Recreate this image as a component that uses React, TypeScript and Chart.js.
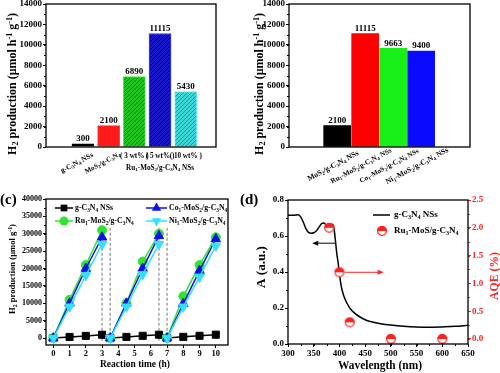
import React, { useEffect, useRef } from 'react';
import { Chart, registerables } from 'chart.js';

Chart.register(...registerables);

const FONT = '"Liberation Serif", "Times New Roman", Times, serif';

// ---------- panel (a) ----------
const aCategories = ['g-C_3N_4 NSs', 'MoS_2/g-C_3N_4', '( 3 wt% )', '( 5 wt% )', '( 10 wt% )'];
const aGroupLabel = 'Ru_1-MoS_2/g-C_3N_4 NSs';
const aValues = [300, 2100, 6890, 11115, 5430];
const aYTicks = [0, 2000, 4000, 6000, 8000, 10000, 12000, 14000];
const aYTitle = 'H_2 production (μmol h^{-1} g^{-1})';

// ---------- panel (b) ----------
const bCategories = ['MoS_2/g-C_3N_4 NSs', 'Ru_1-MoS_2/g-C_3N_4 NSs', 'Co_1-MoS_2/g-C_3N_4 NSs', 'Ni_1-MoS_2/g-C_3N_4 NSs'];
const bValues = [2100, 11115, 9663, 9400];
const bYTicks = [0, 2000, 4000, 6000, 8000, 10000, 12000, 14000];

// ---------- panel (c) ----------
const cTimes = [0, 1, 2, 3, 3.5, 4.5, 5.5, 6.5, 7, 8, 9, 10];
const cCycleLength = 4;
const cGcn = [0, 320, 620, 950, 0, 330, 640, 960, 0, 340, 650, 970];
const cRu = [0, 11000, 21000, 31000, 0, 10000, 22000, 30000, 0, 12000, 21000, 29000];
const cCo = [0, 10000, 20000, 29000, 0, 10000, 20000, 29400, 0, 9900, 19400, 28500];
const cNi = [0, 9000, 18000, 27000, 0, 9000, 18300, 27000, 0, 9000, 17600, 26500];
const cBreaks = [3, 3.5, 6.5, 7];
const cBreakRange = [-800, 32000];
const cSeriesNames = ['g-C_3N_4 NSs', 'Ru_1-MoS_2/g-C_3N_4', 'Co_1-MoS_2/g-C_3N_4', 'Ni_1-MoS_2/g-C_3N_4'];
const cXTicks = [0, 1, 2, 3, 4, 5, 6, 7, 8, 9, 10];
const cYTicks = [0, 5000, 10000, 15000, 20000, 25000, 30000, 35000, 40000];

// ---------- panel (d) ----------
const dWavelength = [300, 310, 320, 325, 330, 335, 340, 345, 350, 355, 360, 365, 370, 375, 380, 385, 388, 390, 392, 395, 398, 400, 403, 406, 410, 415, 420, 430, 440, 450, 460, 480, 500, 525, 550, 575, 600, 625, 650];
const dAbsorbance = [0.715, 0.715, 0.718, 0.705, 0.675, 0.64, 0.62, 0.615, 0.618, 0.628, 0.648, 0.668, 0.672, 0.658, 0.655, 0.665, 0.66, 0.63, 0.58, 0.5, 0.44, 0.39, 0.33, 0.29, 0.255, 0.225, 0.2, 0.17, 0.15, 0.135, 0.125, 0.113, 0.105, 0.098, 0.094, 0.093, 0.095, 0.098, 0.104];
const dAqeWavelength = [380, 400, 420, 500, 600];
const dAqe = [2.0, 1.2, 0.3, 0.0, 0.0];
const dXTicks = [300, 350, 400, 450, 500, 550, 600, 650];
const dYTicks = [0, 0.2, 0.4, 0.6, 0.8];
const dY2Ticks = [0, 0.5, 1.0, 1.5, 2.0, 2.5];
const dArrows = [
  { from: [392, 0.56], to: [347, 0.56], axis: 'y', color: '#000000' },
  { from: [410, 1.2], to: [486, 1.2], axis: 'y2', color: '#ff2020' },
];
const dSeriesNames = ['g-C_3N_4 NSs', 'Ru_1-MoS/g-C_3N_4'];

// ---------- helpers ----------
type Seg = { t: string; k: number };
function parseRich(s: string): Seg[] {
  const out: Seg[] = [];
  let buf = '';
  for (let i = 0; i < s.length; i++) {
    const ch = s[i];
    if ((ch === '_' || ch === '^') && i + 1 < s.length) {
      if (buf) { out.push({ t: buf, k: 0 }); buf = ''; }
      let t = '';
      if (s[i + 1] === '{') { const j = s.indexOf('}', i + 2); t = s.slice(i + 2, j); i = j; }
      else { t = s[i + 1]; i++; }
      out.push({ t, k: ch === '_' ? 1 : 2 });
    } else buf += ch;
  }
  if (buf) out.push({ t: buf, k: 0 });
  return out;
}
const fontOf = (size: number) => `bold ${size}px ${FONT}`;
function richWidth(ctx: any, segs: Seg[], size: number) {
  let w = 0;
  for (const sg of segs) { ctx.font = fontOf(sg.k ? size * 0.68 : size); w += ctx.measureText(sg.t).width; }
  return w;
}
function drawRich(ctx: any, s: string, x: number, y: number, o: any) {
  const segs = parseRich(s);
  ctx.save();
  let size = o.size || 9;
  if (o.len) { const w1 = richWidth(ctx, segs, 10); size = (10 * o.len) / w1; }
  ctx.translate(x, y);
  if (o.rot) ctx.rotate((o.rot * Math.PI) / 180);
  ctx.fillStyle = o.color || '#000';
  ctx.textBaseline = 'middle';
  ctx.textAlign = 'left';
  const w = richWidth(ctx, segs, size);
  let cx = o.align === 'center' ? -w / 2 : o.align === 'right' ? -w : 0;
  for (const sg of segs) {
    const fs = sg.k ? size * 0.68 : size;
    ctx.font = fontOf(fs);
    const dy = sg.k === 1 ? size * 0.28 : sg.k === 2 ? -size * 0.3 : 0;
    ctx.fillText(sg.t, cx, dy);
    cx += ctx.measureText(sg.t).width;
  }
  ctx.restore();
}
function drawFrame(chart: any) {
  const { ctx, chartArea: ca } = chart;
  ctx.save();
  ctx.strokeStyle = '#000';
  ctx.lineWidth = 1.3;
  ctx.strokeRect(ca.left, ca.top, ca.right - ca.left, ca.bottom - ca.top);
  ctx.restore();
}
function drawMinor(chart: any, id: string, step: number, color = '#000', len = 2) {
  const s = chart.scales[id];
  const ca = chart.chartArea;
  const ctx = chart.ctx;
  ctx.save();
  ctx.strokeStyle = color;
  ctx.lineWidth = 1;
  ctx.beginPath();
  const st = Math.max(0, Math.ceil((s.min - 1e-9) / step) * step);
  for (let v = st; v <= s.max + 1e-9; v += step) {
    const p = Math.round(s.getPixelForValue(v)) + 0.5;
    if (s.axis === 'x') { ctx.moveTo(p, ca.bottom); ctx.lineTo(p, ca.bottom + len); }
    else if (s.position === 'right') { ctx.moveTo(ca.right, p); ctx.lineTo(ca.right + len, p); }
    else { ctx.moveTo(ca.left, p); ctx.lineTo(ca.left - len, p); }
  }
  ctx.stroke();
  ctx.restore();
}
function marker(ctx: any, shape: string, x: number, y: number, r: number, color: string) {
  ctx.save();
  ctx.fillStyle = color;
  ctx.beginPath();
  if (shape === 'rect') { const h = r * 0.75; ctx.rect(x - h, y - h, 2 * h, 2 * h); }
  else if (shape === 'circle') ctx.arc(x, y, r, 0, Math.PI * 2);
  else if (shape === 'triangle') { ctx.moveTo(x, y - r); ctx.lineTo(x + r * 0.866, y + r * 0.5); ctx.lineTo(x - r * 0.866, y + r * 0.5); ctx.closePath(); }
  else { ctx.moveTo(x, y + r); ctx.lineTo(x + r * 0.866, y - r * 0.5); ctx.lineTo(x - r * 0.866, y - r * 0.5); ctx.closePath(); }
  ctx.fill();
  ctx.restore();
}
function hatch(base: string, line: string) {
  const c = document.createElement('canvas');
  c.width = 4; c.height = 4;
  const g = c.getContext('2d') as any;
  g.fillStyle = base; g.fillRect(0, 0, 4, 4);
  g.strokeStyle = line; g.lineWidth = 1;
  g.beginPath();
  g.moveTo(0, 4); g.lineTo(4, 0);
  g.moveTo(-1, 1); g.lineTo(1, -1);
  g.moveTo(3, 5); g.lineTo(5, 3);
  g.stroke();
  return g.createPattern(c, 'repeat');
}
function halfCircle(r: number) {
  const s = Math.ceil(r * 2 + 2);
  const c = document.createElement('canvas');
  c.width = s; c.height = s;
  const g = c.getContext('2d') as any;
  const m = s / 2;
  g.fillStyle = '#fff'; g.beginPath(); g.arc(m, m, r, 0, Math.PI * 2); g.fill();
  g.fillStyle = '#ff2020'; g.beginPath(); g.arc(m, m, r, Math.PI, Math.PI * 2); g.closePath(); g.fill();
  g.strokeStyle = '#ff2020'; g.lineWidth = 1.2; g.beginPath(); g.arc(m, m, r - 0.6, 0, Math.PI * 2); g.stroke();
  return c;
}
const fixedTicks = (values: number[]) => (s: any) => { s.ticks = values.map((v) => ({ value: v })); };
const labelFmt = (fmt: (v: number) => string) => (s: any) => { s.ticks.forEach((t: any) => { t.label = fmt(t.value); }); };
const plain = (v: number) => String(v);
const oneDec = (v: number) => v.toFixed(1);
const fixSize = (prop: string, size: number) => (s: any) => {
  s[prop] = size; s.paddingLeft = 0; s.paddingRight = 0; s.paddingTop = 0; s.paddingBottom = 0;
};
const tickFont = (size: number) => ({ family: FONT, size, weight: 'bold' as const });
const yAxis = (ticks: number[], min: number, max: number, width: number, fs: number, fmt: (v: number) => string, extra: any = {}) => ({
  min, max,
  position: extra.position || 'left',
  afterBuildTicks: fixedTicks(ticks),
  afterTickToLabelConversion: labelFmt(fmt),
  afterFit: fixSize('width', width),
  ticks: { font: tickFont(fs), color: extra.color || '#000', padding: 1 },
  grid: { drawOnChartArea: false, tickLength: 3, color: extra.color || '#000', lineWidth: 1 },
  border: { display: false },
});

function cyclePoints(ys: number[]) {
  const pts: any[] = [];
  ys.forEach((y, i) => {
    if (i > 0 && i % cCycleLength === 0) pts.push({ x: (cTimes[i - 1] + cTimes[i]) / 2, y: null });
    pts.push({ x: cTimes[i], y });
  });
  return pts;
}

// ---------- chart configs ----------
function configA(): any {
  const fills = ['#000000', '#ff1a1a', hatch('#1fc41f', '#0b8f0b'), hatch('#1818c8', '#00008a'), hatch('#3cd6d6', '#1a9e9e')];
  const borders = ['#000000', '#ff3030', '#44ee44', '#3a3aff', '#66eeee'];
  const rotLens = [36, 39];
  return {
    type: 'bar',
    data: { datasets: [{ data: aValues.map((v, i) => ({ x: i + 1, y: v })), backgroundColor: fills, borderColor: borders, borderWidth: 1, barThickness: 22 }] },
    options: {
      animation: false, responsive: false,
      layout: { padding: { left: 0, right: 34, top: 4, bottom: 0 } },
      plugins: { legend: { display: false }, tooltip: { enabled: false } },
      scales: {
        x: { type: 'linear', min: 0.39, max: 5.35, ticks: { display: false }, grid: { display: false }, border: { display: false }, afterFit: fixSize('height', 45) },
        y: yAxis(aYTicks, 0, 14000, 46, 9, plain),
      },
    },
    plugins: [{
      id: 'decoA',
      afterDraw(chart: any) {
        const ctx = chart.ctx; const ca = chart.chartArea;
        drawMinor(chart, 'y', 1000);
        drawFrame(chart);
        const meta = chart.getDatasetMeta(0);
        meta.data.forEach((el: any, i: number) => {
          drawRich(ctx, String(aValues[i]), el.x, el.y - 5, { size: 9, align: 'center' });
          if (i < 2) drawRich(ctx, aCategories[i], el.x - 6, ca.bottom + 16, { len: rotLens[i], align: 'center', rot: -28 });
          else drawRich(ctx, aCategories[i], el.x, ca.bottom + 9, { size: 7.2, align: 'center' });
        });
        drawRich(ctx, aGroupLabel, meta.data[3].x, ca.bottom + 21, { len: 68, align: 'center' });
        drawRich(ctx, aYTitle, 13, 84, { len: 142, align: 'center', rot: -90 });
      },
    }],
  };
}

function configB(): any {
  const fills = ['#000000', '#ff0000', '#19ef19', '#0a0aff'];
  const labelLens = [57, 68, 66, 70];
  return {
    type: 'bar',
    data: { datasets: [{ data: bValues.map((v, i) => ({ x: i + 1, y: v })), backgroundColor: fills, borderColor: fills, borderWidth: 0, barThickness: 27 }] },
    options: {
      animation: false, responsive: false,
      layout: { padding: { left: 0, right: 30, top: 4, bottom: 0 } },
      plugins: { legend: { display: false }, tooltip: { enabled: false } },
      scales: {
        x: { type: 'linear', min: 0.357, max: 4.667, ticks: { display: false }, grid: { display: false }, border: { display: false }, afterFit: fixSize('height', 45) },
        y: yAxis(bYTicks, 0, 14000, 39, 9, plain),
      },
    },
    plugins: [{
      id: 'decoB',
      afterDraw(chart: any) {
        const ctx = chart.ctx; const ca = chart.chartArea;
        drawMinor(chart, 'y', 1000);
        drawFrame(chart);
        const meta = chart.getDatasetMeta(0);
        meta.data.forEach((el: any, i: number) => {
          drawRich(ctx, String(bValues[i]), el.x, el.y - 5, { size: 9, align: 'center' });
          drawRich(ctx, bCategories[i], el.x - 4, ca.bottom + 19, { len: labelLens[i], align: 'center', rot: -28 });
        });
        drawRich(ctx, aYTitle, 10, 84, { len: 142, align: 'center', rot: -90 });
      },
    }],
  };
}

function configC(): any {
  const lineDs = (ys: number[], color: string, style: string, radius: number, rotation = 0) => ({
    data: cyclePoints(ys), borderColor: color, backgroundColor: color, borderWidth: 1.5,
    pointStyle: style, pointRadius: radius, pointRotation: rotation, pointBorderWidth: 1, spanGaps: false,
  });
  const breaks = cBreaks.map((b) => ({
    data: cBreakRange.map((y) => ({ x: b, y })), borderColor: '#8c8c8c', borderWidth: 1.2, borderDash: [3, 2], pointRadius: 0,
  }));
  return {
    type: 'line',
    data: {
      datasets: [
        lineDs(cNi, '#33e0ff', 'triangle', 5.5, 180),
        lineDs(cCo, '#1010ee', 'triangle', 5.5),
        lineDs(cRu, '#2ee62e', 'circle', 4.5),
        lineDs(cGcn, '#000000', 'rect', 5),
        ...breaks,
      ],
    },
    options: {
      animation: false, responsive: false,
      layout: { padding: { left: 0, right: 22, top: 14, bottom: 0 } },
      plugins: { legend: { display: false }, tooltip: { enabled: false } },
      scales: {
        x: {
          type: 'linear', min: -0.45, max: 10.75,
          afterBuildTicks: fixedTicks(cXTicks), afterTickToLabelConversion: labelFmt(plain), afterFit: fixSize('height', 28),
          ticks: { font: tickFont(8.5), color: '#000', padding: 1 },
          grid: { drawOnChartArea: false, tickLength: 3, color: '#000' }, border: { display: false },
        },
        y: yAxis(cYTicks, -2000, 40000, 46, 8, plain),
      },
    },
    plugins: [{
      id: 'decoC',
      afterDraw(chart: any) {
        const ctx = chart.ctx;
        drawMinor(chart, 'y', 2500);
        drawFrame(chart);
        const items = [
          { name: cSeriesNames[0], color: '#000000', shape: 'rect', r: 4.5, x1: 55, x2: 73, y: 23 },
          { name: cSeriesNames[1], color: '#2ee62e', shape: 'circle', r: 4.5, x1: 55, x2: 73, y: 36 },
          { name: cSeriesNames[2], color: '#1010ee', shape: 'triangle', r: 5.5, x1: 146, x2: 167, y: 23 },
          { name: cSeriesNames[3], color: '#33e0ff', shape: 'down', r: 5.5, x1: 146, x2: 167, y: 36 },
        ];
        for (const it of items) {
          ctx.save(); ctx.strokeStyle = it.color; ctx.lineWidth = 1.5;
          ctx.beginPath(); ctx.moveTo(it.x1, it.y); ctx.lineTo(it.x2, it.y); ctx.stroke(); ctx.restore();
          marker(ctx, it.shape, (it.x1 + it.x2) / 2, it.y, it.r, it.color);
          drawRich(ctx, it.name, it.x2 + 2, it.y, { size: 7.8 });
        }
        drawRich(ctx, 'H_2 production (μmol g^{-1})', 13, 84, { len: 90, align: 'center', rot: -90 });
        drawRich(ctx, 'Reaction time (h)', 135, 180, { len: 70, align: 'center' });
      },
    }],
  };
}

function configD(): any {
  return {
    type: 'line',
    data: {
      datasets: [
        {
          data: dAqeWavelength.map((x, i) => ({ x, y: dAqe[i] })), yAxisID: 'y2', showLine: false,
          pointStyle: halfCircle(5), pointRadius: 5, borderColor: '#ff2020', backgroundColor: '#ff2020',
        },
        {
          data: dWavelength.map((x, i) => ({ x, y: dAbsorbance[i] })), yAxisID: 'y', borderColor: '#000', borderWidth: 1.5,
          pointRadius: 0, cubicInterpolationMode: 'monotone',
        },
      ],
    },
    options: {
      animation: false, responsive: false,
      layout: { padding: { left: 0, right: 0, top: 15, bottom: 0 } },
      plugins: { legend: { display: false }, tooltip: { enabled: false } },
      scales: {
        x: {
          type: 'linear', min: 300, max: 650,
          afterBuildTicks: fixedTicks(dXTicks), afterTickToLabelConversion: labelFmt(plain), afterFit: fixSize('height', 29),
          ticks: { font: tickFont(9), color: '#000', padding: 1 },
          grid: { drawOnChartArea: false, tickLength: 3, color: '#000' }, border: { display: false },
        },
        y: yAxis(dYTicks, 0, 0.8, 38, 9, oneDec),
        y2: yAxis(dY2Ticks, -0.09, 2.5, 32, 9, oneDec, { position: 'right', color: '#ff2020' }),
      },
    },
    plugins: [{
      id: 'decoD',
      afterDraw(chart: any) {
        const ctx = chart.ctx;
        drawMinor(chart, 'x', 25);
        drawMinor(chart, 'y', 0.1);
        drawMinor(chart, 'y2', 0.25, '#ff2020');
        drawFrame(chart);
        const sx = chart.scales.x;
        for (const a of dArrows) {
          const sy = chart.scales[a.axis];
          const x1 = sx.getPixelForValue(a.from[0]), y1 = sy.getPixelForValue(a.from[1]);
          const x2 = sx.getPixelForValue(a.to[0]), y2 = sy.getPixelForValue(a.to[1]);
          const dir = Math.sign(x2 - x1);
          ctx.save(); ctx.strokeStyle = a.color; ctx.fillStyle = a.color; ctx.lineWidth = 1;
          ctx.beginPath(); ctx.moveTo(x1, y1); ctx.lineTo(x2 - dir * 4, y2); ctx.stroke();
          ctx.beginPath(); ctx.moveTo(x2, y2); ctx.lineTo(x2 - dir * 6, y2 - 2.5); ctx.lineTo(x2 - dir * 6, y2 + 2.5); ctx.closePath(); ctx.fill();
          ctx.restore();
        }
        ctx.save(); ctx.strokeStyle = '#000'; ctx.lineWidth = 1.5;
        ctx.beginPath(); ctx.moveTo(123, 30); ctx.lineTo(140, 30); ctx.stroke(); ctx.restore();
        drawRich(ctx, dSeriesNames[0], 144, 30, { size: 9 });
        ctx.drawImage(halfCircle(5), 132 - 6, 46 - 6);
        drawRich(ctx, dSeriesNames[1], 144, 46, { size: 9 });
        drawRich(ctx, 'A (a.u.)', 12, 82, { len: 42, align: 'center', rot: -90 });
        drawRich(ctx, 'AQE (%)', 245, 91, { len: 48, align: 'center', rot: -90, color: '#ff2020' });
        drawRich(ctx, 'Wavelength (nm)', 130, 181, { len: 84, align: 'center' });
      },
    }],
  };
}

function useChart(ref: any, make: () => any) {
  useEffect(() => {
    const chart = new Chart(ref.current, make());
    return () => chart.destroy();
  }, []);
}

export default function App() {
  const aRef = useRef<HTMLCanvasElement>(null);
  const bRef = useRef<HTMLCanvasElement>(null);
  const cRef = useRef<HTMLCanvasElement>(null);
  const dRef = useRef<HTMLCanvasElement>(null);
  useChart(aRef, configA);
  useChart(bRef, configB);
  useChart(cRef, configC);
  useChart(dRef, configD);
  const abs = (left: number, top: number, w: number, h: number): any => ({ position: 'absolute', left, top, width: w, height: h });
  const lab: any = { position: 'absolute', font: `bold 15px ${FONT}`, lineHeight: '16px', color: '#000' };
  return (
    <div style={{ position: 'fixed', left: 0, top: 0, width: 500, height: 373, background: '#fff', overflow: 'hidden' }}>
      <canvas ref={aRef} width={250} height={192} style={abs(0, 0, 250, 192)} />
      <canvas ref={bRef} width={250} height={192} style={abs(250, 0, 250, 192)} />
      <canvas ref={cRef} width={250} height={188} style={abs(0, 185, 250, 188)} />
      <canvas ref={dRef} width={250} height={188} style={abs(250, 185, 250, 188)} />
      <div style={{ ...lab, left: 0, top: 191 }}>(c)</div>
      <div style={{ ...lab, left: 240, top: 191 }}>(d)</div>
    </div>
  );
}
